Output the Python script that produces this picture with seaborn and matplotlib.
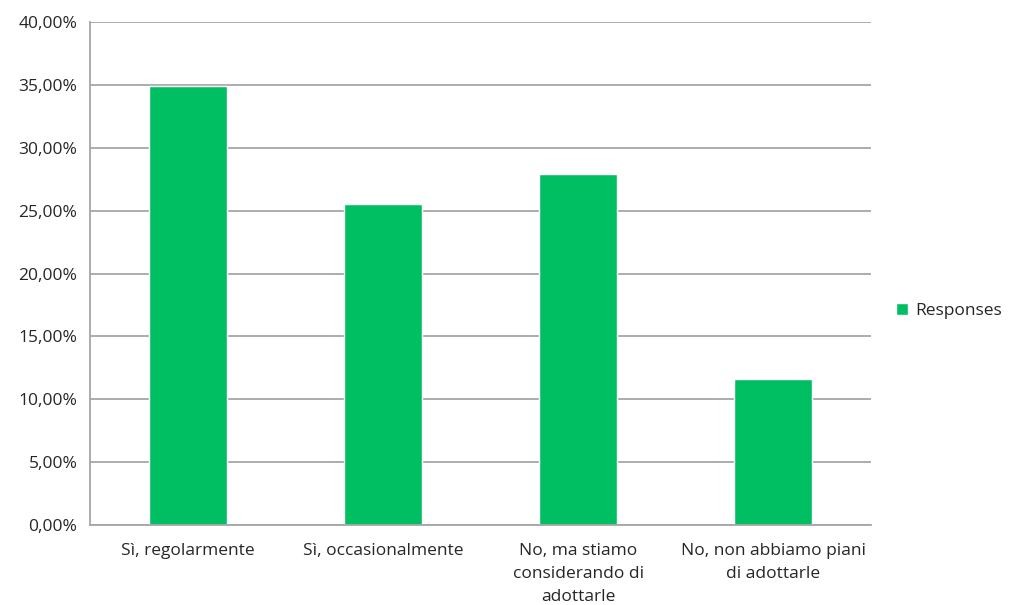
import numpy as np
import pandas as pd
import matplotlib.pyplot as plt
import seaborn as sns
from matplotlib.ticker import FuncFormatter, FixedLocator

categories = ['Sì, regolarmente', 'Sì, occasionalmente',
              'No, ma stiamo\nconsiderando di\nadottarle',
              'No, non abbiamo piani\ndi adottarle']
values = [34.9, 25.55, 27.9, 11.6]
series = 'Responses'

df = pd.DataFrame({'cat': categories, 'val': values, 'series': series})

sns.set_style('white')
plt.rcParams['font.family'] = ['Open Sans', 'DejaVu Sans']
plt.rcParams['text.color'] = '#262626'
green = '#00BF63'
grey = '#A6A6A6'
txt = '#262626'

fig = plt.figure(figsize=(10.11, 6.05), dpi=100)
ax = fig.add_axes([0.089, 0.1322, 0.7725, 0.8314])
sns.barplot(data=df, x='cat', y='val', hue='series', palette=[green],
            saturation=1, width=0.4, ax=ax, legend=True)

ax.set_ylim(0, 40)
ax.set_xlim(-0.5, 3.5)
ax.set_yticks(np.arange(0, 41, 5))
ax.yaxis.set_major_formatter(FuncFormatter(lambda v, p: f'{v:.2f}%'.replace('.', ',')))
ax.grid(axis='y', color=grey, linewidth=1.3)
ax.set_axisbelow(True)
for s in ['top', 'right']:
    ax.spines[s].set_visible(False)
for s in ['left', 'bottom']:
    ax.spines[s].set_color(grey)
    ax.spines[s].set_linewidth(1.3)
ax.set_xlabel('')
ax.set_ylabel('')
ax.tick_params(axis='y', length=5, color=grey, width=1.3, labelsize=12.5,
               labelcolor=txt, pad=4)
ax.tick_params(axis='x', which='major', length=0, labelsize=12.5,
               labelcolor=txt, pad=13)
ax.xaxis.set_minor_locator(FixedLocator([-0.5, 0.5, 1.5, 2.5, 3.5]))
ax.tick_params(axis='x', which='minor', length=5, color=grey, width=1.3)
for t in ax.get_xticklabels():
    t.set_linespacing(1.6)

ax.legend(loc='center left', bbox_to_anchor=(1.012, 0.425), frameon=False,
          fontsize=12.5, handlelength=0.7, handleheight=0.7, handletextpad=0.4,
          labelcolor=txt)

fig.savefig('out.png', dpi=100)
